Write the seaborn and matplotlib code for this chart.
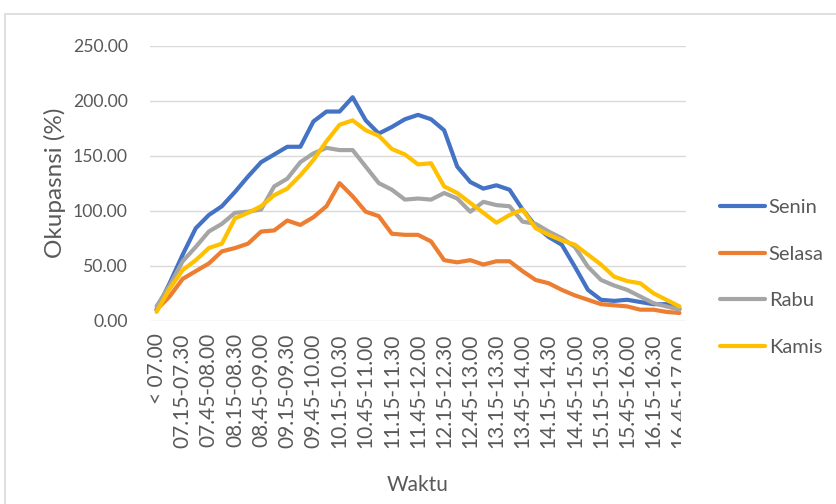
import numpy as np
import pandas as pd
import matplotlib
matplotlib.use("Agg")
import matplotlib.pyplot as plt
from matplotlib.transforms import Bbox
from matplotlib.patches import Rectangle
import seaborn as sns

waktu = ["< 07.00", "07.00-07.15", "07.15-07.30", "07.30-07.45", "07.45-08.00",
         "08.00-08.15", "08.15-08.30", "08.30-08.45", "08.45-09.00", "09.00-09.15",
         "09.15-09.30", "09.30-09.45", "09.45-10.00", "10.00-10.15", "10.15-10.30",
         "10.30-10.45", "10.45-11.00", "11.00-11.15", "11.15-11.30", "11.30-11.45",
         "11.45-12.00", "12.00-12.15", "12.15-12.30", "12.30-12.45", "12.45-13.00",
         "13.00-13.15", "13.15-13.30", "13.30-13.45", "13.45-14.00", "14.00-14.15",
         "14.15-14.30", "14.30-14.45", "14.45-15.00", "15.00-15.15", "15.15-15.30",
         "15.30-15.45", "15.45-16.00", "16.00-16.15", "16.15-16.30", "16.30-16.45",
         "16.45-17.00"]

senin = [10, 34, 60, 84, 96, 104, 117, 131, 144, 151, 158, 158, 181, 190, 190, 203,
         182, 170, 176, 183, 187, 183, 173, 140, 126, 120, 123, 119, 101, 86, 76, 69,
         49, 28, 19, 18, 19, 17, 15, 15, 11]
selasa = [10, 22, 38, 45, 52, 63, 66, 70, 81, 82, 91, 87, 94, 104, 125, 113, 99, 95,
          79, 78, 78, 72, 55, 53, 55, 51, 54, 54, 45, 37, 34, 28, 23, 19, 15, 14, 13,
          10, 10, 8, 7]
rabu = [13, 32, 54, 67, 81, 88, 98, 99, 101, 122, 129, 144, 152, 157, 155, 155, 140,
        125, 119, 110, 111, 110, 116, 111, 99, 108, 105, 104, 90, 88, 81, 75, 67, 49,
        37, 32, 28, 22, 16, 13, 10]
kamis = [8, 29, 46, 55, 66, 70, 93, 98, 104, 114, 120, 132, 146, 163, 178, 182, 173,
         168, 156, 151, 142, 143, 122, 116, 107, 98, 89, 96, 101, 84, 78, 73, 69, 60,
         51, 40, 36, 34, 25, 19, 13]

hari = ["Senin", "Selasa", "Rabu", "Kamis"]
warna = ["#4472C4", "#ED7D31", "#A5A5A5", "#FFC000"]

df = pd.concat([
    pd.DataFrame({"Waktu": waktu, "Okupansi": vals, "Hari": h})
    for h, vals in zip(hari, [senin, selasa, rabu, kamis])
])

sns.set_style("white")
plt.rcParams["font.family"] = ["Lato", "DejaVu Sans"]
txt = "#595959"

fig = plt.figure(figsize=(8.37, 5.04), dpi=100)
fig.patches.append(Rectangle((5 / 837, -0.1), 1.2, 1 - 14 / 504 + 0.1,
                             transform=fig.transFigure, fill=False,
                             edgecolor="#d9d9d9", linewidth=1.2))
ax = fig.add_axes([150 / 837, 1 - 320.7 / 504, 536 / 837, 275.2 / 504])

sns.lineplot(data=df, x="Waktu", y="Okupansi", hue="Hari", palette=warna,
             sort=False, linewidth=3, ax=ax)

ax.set_xlim(-0.5, len(waktu) - 0.5)
ax.set_ylim(0, 250)
ax.set_yticks([0, 50, 100, 150, 200, 250])
ax.yaxis.set_major_formatter(matplotlib.ticker.FormatStrFormatter("%.2f"))
ax.set_xticks(range(0, len(waktu), 2))
ax.set_xticklabels(waktu[::2], rotation=90, fontsize=15, color=txt)
ax.tick_params(axis="x", length=0, pad=9)
ax.tick_params(axis="y", length=0, pad=16, labelsize=12.7, labelcolor=txt)
ax.grid(axis="y", color="#d9d9d9", linewidth=1)
for s in ["top", "right", "left", "bottom"]:
    ax.spines[s].set_visible(False)

ax.set_ylabel("Okupasnsi (%)", fontsize=17.5, color=txt, va="center")
ax.yaxis.set_label_coords(-0.177, 0.5)
ax.set_xlabel("Waktu", fontsize=15, color=txt, va="center")
ax.xaxis.set_label_coords(0.5, -0.596)

# last label is cut off in the original
last = ax.get_xticklabels()[-1]
last.set_clip_on(True)
last.set_clip_box(Bbox.from_extents(0, 0, 681, 504))

handles, labels = ax.get_legend_handles_labels()
ax.get_legend().remove()
fig.legend(handles, labels, loc="upper left",
           bbox_to_anchor=(720 / 837, 1 - 199 / 504), frameon=False,
           fontsize=14.5, handlelength=2.24, handletextpad=0.18,
           labelspacing=1.47, borderpad=0, borderaxespad=0, labelcolor=txt)

fig.savefig("out.png", dpi=100)
